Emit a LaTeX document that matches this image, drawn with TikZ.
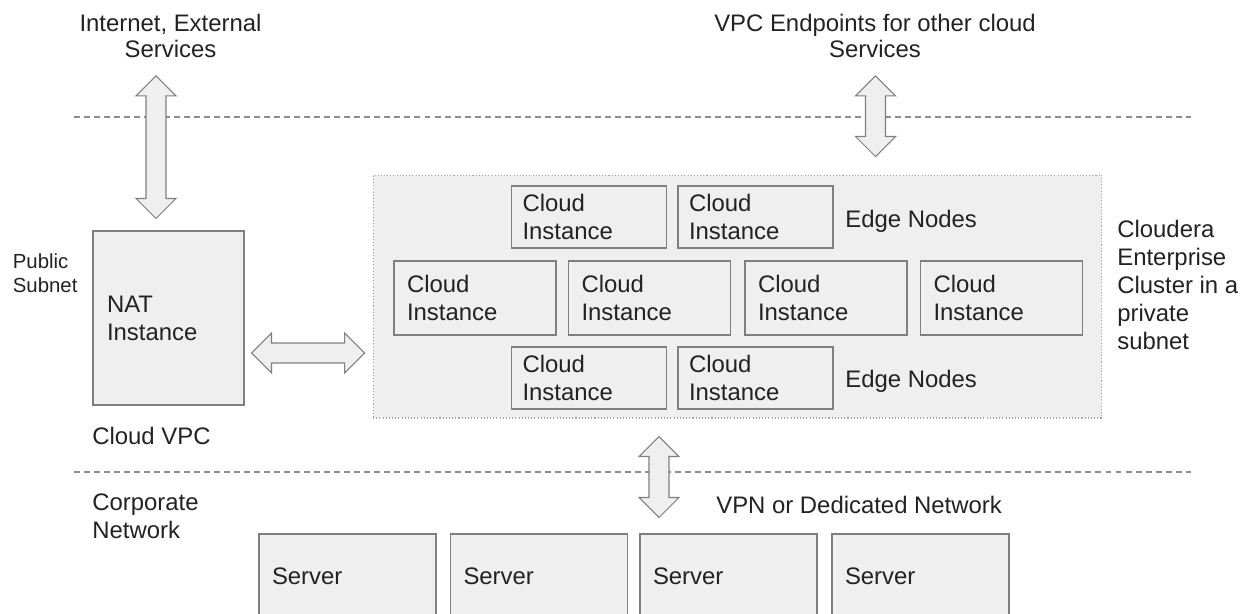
\documentclass[tikz,border=0pt]{standalone}
\usepackage{fontspec}
\setmainfont{Liberation Sans}
\usetikzlibrary{calc}
\definecolor{boxfill}{HTML}{EFEFEF}
\definecolor{boxline}{HTML}{7F7F7F}
\definecolor{zoneline}{HTML}{8C8C8C}
\definecolor{clusterline}{HTML}{A6A6A6}
\definecolor{textdark}{HTML}{222222}
\newcommand{\TwoWay}[2]{%
  \coordinate (tw-a) at ($(#1)!0.4cm!(#2)$);
  \coordinate (tw-b) at ($(#2)!0.4cm!(#1)$);
  \draw[twoWayStyle] (#1) -- ($(tw-a)!0.4cm!90:(#2)$) -- ($(tw-a)!0.2cm!90:(#2)$)
    -- ($(tw-b)!0.2cm!-90:(#1)$) -- ($(tw-b)!0.4cm!-90:(#1)$) -- (#2)
    -- ($(tw-b)!0.4cm!90:(#1)$) -- ($(tw-b)!0.2cm!90:(#1)$)
    -- ($(tw-a)!0.2cm!-90:(#2)$) -- ($(tw-a)!0.4cm!-90:(#2)$) -- cycle;}

\begin{document}
\begin{tikzpicture}[x = 0.02cm, y = -0.02cm, font=\fontsize{13.6pt}{16pt}\selectfont, text=textdark]
	\tikzstyle{plainText}=[inner sep = 0pt, align = left]
	\tikzstyle{zoneLine}=[draw = zoneline, line width = 0.6pt, dash pattern = on 3.4pt off 2.3pt]
	\tikzstyle{twoWayStyle}=[draw = boxline, fill = boxfill, line width = 0.6pt, line join = miter]
	\tikzstyle{clusterStyle}=[draw = clusterline, fill = boxfill, line width = 0.6pt, dash pattern = on 0.6pt off 1.2pt, minimum width = 14.58cm, minimum height = 4.86cm]
	\tikzstyle{edgeStyle}=[draw = boxline, fill = boxfill, line width = 0.6pt, minimum width = 3.1cm, minimum height = 1.24cm, inner xsep = 0.22cm, inner ysep = 0pt, text width = 2.66cm, align = left]
	\tikzstyle{coreStyle}=[draw = boxline, fill = boxfill, line width = 0.6pt, minimum width = 3.24cm, minimum height = 1.48cm, inner xsep = 0.26cm, inner ysep = 0pt, text width = 2.72cm, align = left]
	\tikzstyle{natStyle}=[draw = boxline, fill = boxfill, line width = 0.6pt, minimum width = 3.02cm, minimum height = 3.48cm, inner xsep = 0.28cm, inner ysep = 0pt, text width = 2.46cm, align = left]
	\tikzstyle{serverStyle}=[draw = boxline, fill = boxfill, line width = 0.6pt, minimum width = 3.54cm, minimum height = 1.68cm, inner xsep = 0.26cm, inner ysep = 0pt, text width = 3.02cm, align = left]
	\useasboundingbox (0,0) rectangle (1252,613);
	\draw[zoneLine] (74,117) -- (1191,117);
	\draw[zoneLine] (74,472) -- (1191,472);
	\node[clusterStyle] (cluster) at (737.5,296.5) {};
	\node[edgeStyle] (top1) at (589,217) {Cloud\\Instance};
	\node[edgeStyle] (top2) at (755.5,217) {Cloud\\Instance};
	\node[coreStyle] (mid1) at (475,298) {Cloud\\Instance};
	\node[coreStyle] (mid2) at (649.5,298) {Cloud\\Instance};
	\node[coreStyle] (mid3) at (826,298) {Cloud\\Instance};
	\node[coreStyle] (mid4) at (1001.5,298) {Cloud\\Instance};
	\node[edgeStyle] (bot1) at (589,378) {Cloud\\Instance};
	\node[edgeStyle] (bot2) at (755.5,378) {Cloud\\Instance};
	\node[natStyle] (nat) at (168.5,318) {NAT\\Instance};
	\node[serverStyle] (srv1) at (347.5,576) {Server};
	\node[serverStyle] (srv2) at (539,576) {Server};
	\node[serverStyle] (srv3) at (728.5,576) {Server};
	\node[serverStyle] (srv4) at (920.5,576) {Server};
	\node[plainText, anchor = north, align = center, font = \fontsize{13.6pt}{15pt}\selectfont] (inet) at (170.5,13.8) {Internet, External\\Services};
	\node[plainText, anchor = north, align = center, font = \fontsize{13.6pt}{15pt}\selectfont] (vpce) at (875,13.8) {VPC Endpoints for other cloud\\Services};
	\node[plainText, anchor = north west, font = \fontsize{11.6pt}{13.6pt}\selectfont] (pub) at (12.5,253.3) {Public\\Subnet};
	\node[plainText, anchor = base west] (vpc) at (92,444) {Cloud VPC};
	\node[plainText, anchor = north west, font = \fontsize{13.6pt}{15.9pt}\selectfont] (corp) at (92,493.8) {Corporate\\Network};
	\node[plainText, anchor = base west] (vpn) at (716,513) {VPN or Dedicated Network};
	\node[plainText, anchor = base west] (edgeTop) at (845,227) {Edge Nodes};
	\node[plainText, anchor = base west] (edgeBot) at (845,387) {Edge Nodes};
	\node[plainText, anchor = north west] (cdh) at (1117,219.8) {Cloudera\\Enterprise\\Cluster in a\\private\\subnet};
	\coordinate (inetEnd) at ($(inet.south)+(-14.5,17.5)$);
	\coordinate (natTop) at ($(nat.north)+(-12.5,-12)$);
	\coordinate (vpceEnd) at ($(vpce.south)+(0.5,17.5)$);
	\coordinate (clusterTop) at ($(cluster.north)+(138,-18)$);
	\coordinate (natSide) at ($(nat.east)+(7,35)$);
	\coordinate (clusterSide) at ($(cluster.west)+(-8,56.5)$);
	\coordinate (clusterBot) at ($(cluster.south)+(-78.5,18)$);
	\coordinate (srvTop) at ($(srv3.north)+(-69.5,-16)$);
	\TwoWay{inetEnd}{natTop}
	\TwoWay{vpceEnd}{clusterTop}
	\TwoWay{natSide}{clusterSide}
	\TwoWay{clusterBot}{srvTop}
\end{tikzpicture}
\end{document}
